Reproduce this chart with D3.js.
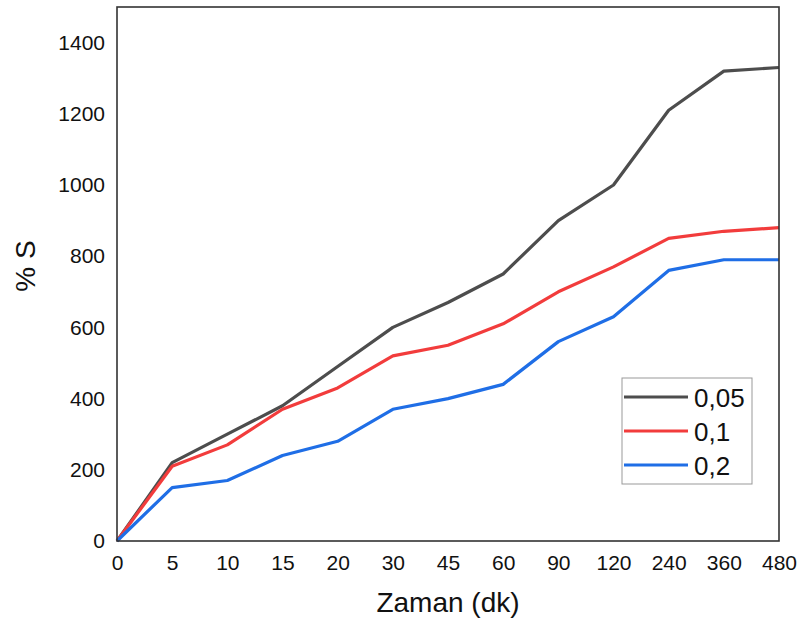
<!DOCTYPE html>
<html>
<head>
<meta charset="utf-8">
<script src="https://cdn.jsdelivr.net/npm/d3@7"></script>
<style>
  body { margin: 0; background: #fff; }
  svg { font-family: "Liberation Sans", Arial, sans-serif; }
</style>
</head>
<body>
<svg width="798" height="621"></svg>
<script>
const times = ["0", "5", "10", "15", "20", "30", "45", "60", "90", "120", "240", "360", "480"];
const s005 = [0, 220, 300, 380, 490, 600, 670, 750, 900, 1000, 1210, 1320, 1330];
const s01 = [0, 210, 270, 370, 430, 520, 550, 610, 700, 770, 850, 870, 880];
const s02 = [0, 150, 170, 240, 280, 370, 400, 440, 560, 630, 760, 790, 790];
const seriesNames = ["0,05", "0,1", "0,2"];
const seriesColors = ["#4d4d4d", "#f23c3c", "#1f6ee6"];
const yTicks = [0, 200, 400, 600, 800, 1000, 1200, 1400];

const series = [s005, s01, s02];

const plotLeft = 117, plotRight = 779, plotTop = 7, plotBottom = 541;
const svg = d3.select("svg");

const x = d3.scalePoint().domain(times).range([plotLeft, plotRight]);
const y = d3.scaleLinear().domain([0, 1500]).range([plotBottom, plotTop]);

// y axis labels
svg.append("g")
  .attr("transform", `translate(${plotLeft},0)`)
  .call(d3.axisLeft(y).tickValues(yTicks).tickSize(0).tickPadding(12).tickFormat(d3.format("d")))
  .call(g => g.select(".domain").remove())
  .selectAll("text")
  .attr("font-size", 21)
  .attr("fill", "#111")
  .attr("font-family", "Liberation Sans, Arial, sans-serif");

// x axis labels
svg.append("g")
  .attr("transform", `translate(0,${plotBottom})`)
  .call(d3.axisBottom(x).tickSize(0).tickPadding(14))
  .call(g => g.select(".domain").remove())
  .selectAll("text")
  .attr("font-size", 21)
  .attr("fill", "#111")
  .attr("font-family", "Liberation Sans, Arial, sans-serif");

const line = d3.line()
  .x((d, i) => x(times[i]))
  .y(d => y(d));

svg.append("g")
  .selectAll("path")
  .data(series)
  .join("path")
  .attr("d", line)
  .attr("fill", "none")
  .attr("stroke", (d, i) => seriesColors[i])
  .attr("stroke-width", 3.2)
  .attr("stroke-linejoin", "round");

// frame
svg.append("rect")
  .attr("x", plotLeft)
  .attr("y", plotTop)
  .attr("width", plotRight - plotLeft)
  .attr("height", plotBottom - plotTop)
  .attr("fill", "none")
  .attr("stroke", "#333")
  .attr("stroke-width", 1.6);

// axis titles
svg.append("text")
  .attr("x", (plotLeft + plotRight) / 2)
  .attr("y", 612)
  .attr("text-anchor", "middle")
  .attr("font-size", 28)
  .attr("fill", "#111")
  .text("Zaman (dk)");

svg.append("text")
  .attr("transform", "translate(35,266) rotate(-90)")
  .attr("text-anchor", "middle")
  .attr("font-size", 28)
  .attr("fill", "#111")
  .text("% S");

// legend
const legend = svg.append("g").attr("transform", "translate(622,378)");
legend.append("rect")
  .attr("width", 130)
  .attr("height", 106)
  .attr("fill", "#fff")
  .attr("stroke", "#999")
  .attr("stroke-width", 1);

const item = legend.selectAll("g.item")
  .data(seriesNames)
  .join("g")
  .attr("class", "item")
  .attr("transform", (d, i) => `translate(0,${19 + i * 34})`);

item.append("line")
  .attr("x1", 2)
  .attr("x2", 66)
  .attr("stroke", (d, i) => seriesColors[i])
  .attr("stroke-width", 3.2);

item.append("text")
  .attr("x", 72)
  .attr("y", 10)
  .attr("font-size", 26)
  .attr("fill", "#111")
  .text(d => d);
</script>
</body>
</html>
